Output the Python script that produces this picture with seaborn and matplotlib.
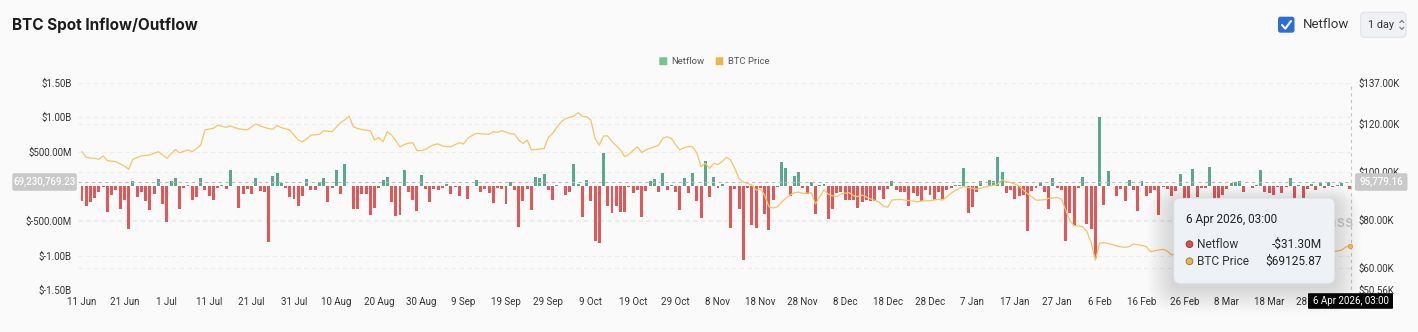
import numpy as np
import pandas as pd
import matplotlib
matplotlib.use("Agg")
import matplotlib.pyplot as plt
from matplotlib.patches import FancyBboxPatch, Circle
from matplotlib.lines import Line2D
from matplotlib.transforms import IdentityTransform
import seaborn as sns

W, H = 1418, 332

# ---- data -------------------------------------------------------------
dates = pd.date_range("2025-06-11", "2026-04-06", freq="D")

# daily spot netflow, millions of USD
netflow_m = [
    -205, -276, -228, -167, -86, -10, -366, -119, -57, -333,
    -190, -609, 76, -157, -86, -214, -343, -105, 109, -248,
    -509, 76, 119, -333, -29, 14, -200, -152, 119, -57,
    -133, -200, -19, 19, -33, 238, 10, -309, -105, -38,
    -114, 124, -71, -81, -809, 152, 190, 48, -19, -152,
    -176, -286, -143, 109, -52, -48, 67, 119, -224, -24,
    238, -105, 319, 10, -333, -324, -110, -114, -409, -314,
    -19, 100, 133, -228, -428, -409, 238, -86, -200, -362,
    171, -38, -224, -33, -48, -24, 38, -110, -10, -143,
    10, -181, 10, 95, -86, -38, -95, -238, -19, -38,
    -248, 71, -57, -581, -205, -33, -347, 133, 119, 186,
    -57, -190, 24, 10, -128, -86, 324, 38, -438, 90,
    -205, -795, -823, 486, -286, -381, -276, -366, -366, -14,
    -95, -48, -438, -71, 86, 109, -81, 195, -57, 24,
    -81, -343, 128, -95, 195, -214, -457, 366, -152, 133,
    -19, 38, 5, -600, -33, -319, -1062, -29, -557, -595,
    -24, -400, -624, -190, -10, 352, 262, -143, 152, 214,
    -29, -114, 67, -395, 19, 33, -466, -319, -100, -81,
    -200, -190, -190, -309, -228, -190, -214, -214, -48, -176,
    -38, 76, -57, -86, -86, -286, -95, -133, -214, -48,
    -119, -200, -86, -181, -48, -24, 24, 24, 262, -381,
    -300, -86, 86, 10, 95, 81, 419, 205, -95, -48,
    -176, -143, -119, -643, -71, -24, 71, -86, -324, 119,
    -24, -48, -786, -381, -571, -24, 133, -548, -609, -1038,
    1000, -262, 224, 10, -143, -38, -214, 95, -48, -357,
    86, -143, -95, -48, -419, -10, -33, -143, -71, 181,
    -181, -181, 252, -152, -24, -19, 286, -181, -176, -119,
    -38, 57, 71, 76, -86, 10, -24, 24, 238, -86,
    -95, -128, -10, -95, -10, 119, -176, 24, -167, -38,
    38, -57, 48, -29, 67, -14, 14, 48, 10, -31.3,
]

# daily BTC close, thousands of USD
btc_price_k = [
    108.3, 105.9, 105.6, 105.5, 105.1, 106.5, 104.5, 104.3, 104.1, 103.2,
    102.3, 100.9, 105.1, 105.8, 106.5, 106.7, 106.9, 107.6, 108.3, 106.9,
    105.5, 107.4, 109.2, 107.8, 108.4, 109.0, 108.3, 109.5, 111.0, 117.3,
    117.7, 118.0, 119.3, 118.8, 118.4, 119.0, 118.3, 117.8, 117.5, 117.3,
    118.6, 119.8, 119.0, 118.4, 117.9, 117.6, 119.2, 118.3, 117.8, 117.3,
    115.2, 113.1, 112.4, 113.6, 115.2, 115.3, 115.5, 117.0, 116.8, 116.6,
    118.5, 120.4, 121.5, 123.1, 118.7, 117.9, 117.5, 117.2, 117.0, 113.1,
    114.2, 112.4, 116.6, 115.2, 112.8, 110.3, 111.2, 111.8, 112.0, 108.7,
    108.7, 109.2, 110.3, 111.2, 111.5, 110.6, 110.4, 110.3, 111.2, 112.0,
    111.5, 113.8, 115.0, 115.9, 115.7, 115.6, 115.5, 116.6, 116.3, 117.0,
    116.4, 115.8, 115.6, 113.1, 111.7, 113.1, 109.0, 109.2, 109.4, 109.6,
    114.2, 115.9, 118.5, 120.6, 122.0, 122.6, 123.1, 124.5, 123.0, 122.8,
    121.5, 113.8, 111.0, 114.8, 114.8, 112.4, 110.8, 109.0, 106.2, 107.2,
    108.8, 110.3, 107.9, 109.0, 109.7, 110.3, 111.0, 113.8, 114.5, 113.8,
    111.2, 109.0, 110.0, 110.4, 110.3, 107.8, 102.0, 103.4, 101.3, 103.4,
    102.9, 104.2, 105.9, 104.8, 101.2, 97.0, 95.6, 95.0, 94.4, 92.3,
    92.6, 90.2, 85.4, 84.8, 85.3, 87.2, 88.9, 90.2, 91.2, 91.4,
    90.9, 91.0, 91.2, 86.5, 89.5, 92.3, 90.6, 89.9, 89.5, 90.6,
    91.0, 91.2, 89.8, 89.6, 90.2, 89.4, 88.6, 88.0, 87.2, 85.6,
    85.1, 88.1, 88.3, 88.4, 88.1, 87.9, 87.7, 87.4, 87.7, 87.8,
    87.8, 88.2, 88.4, 88.1, 89.5, 91.0, 92.1, 93.0, 93.7, 93.4,
    93.0, 92.6, 93.1, 93.6, 94.0, 94.2, 94.8, 96.5, 95.8, 95.4,
    94.8, 94.0, 92.3, 90.8, 89.5, 88.1, 88.1, 88.3, 88.8, 89.0,
    89.2, 88.5, 84.0, 79.5, 77.5, 77.3, 77.0, 75.0, 70.5, 63.0,
    70.1, 70.4, 70.0, 69.6, 69.0, 68.6, 68.4, 68.7, 69.8, 69.5,
    69.2, 68.7, 66.6, 67.0, 67.3, 67.6, 66.8, 65.2, 65.8, 66.9,
    67.8, 68.3, 67.4, 66.5, 65.9, 66.8, 67.9, 68.6, 68.1, 67.2,
    66.4, 67.0, 68.2, 69.5, 70.8, 71.6, 70.9, 70.2, 71.3, 72.1,
    71.0, 70.1, 69.4, 68.7, 68.0, 67.1, 66.7, 66.3, 66.9, 67.4,
    66.8, 66.2, 66.0, 66.4, 66.7, 66.6, 66.9, 67.2, 68.5, 69.12587,
]

tick_labels = [
    "11 Jun", "21 Jun", "1 Jul", "11 Jul", "21 Jul", "31 Jul", "10 Aug",
    "20 Aug", "30 Aug", "9 Sep", "19 Sep", "29 Sep", "9 Oct", "19 Oct",
    "29 Oct", "8 Nov", "18 Nov", "28 Nov", "8 Dec", "18 Dec", "28 Dec",
    "7 Jan", "17 Jan", "27 Jan", "6 Feb", "16 Feb", "26 Feb", "8 Mar",
    "18 Mar", "28 Mar",
]

left_ticks = [1.5e9, 1.0e9, 5e8, -5e8, -1.0e9, -1.5e9]
left_tick_labels = ["$1.50B", "$1.00B", "$500.00M", "$-500.00M", "$-1.00B", "$-1.50B"]
right_ticks = [137000, 120000, 100000, 80000, 60000, 50560]
right_tick_labels = ["$137.00K", "$120.00K", "$100.00K", "$80.00K", "$60.00K", "$50.56K"]

cursor_netflow = 69230769.23
cursor_price = 95779.16
hover_label = "6 Apr 2026, 03:00"
hover_netflow = "-$31.30M"
hover_price = "$69125.87"

# ---- style ------------------------------------------------------------
GREEN = "#5ba98c"
RED = "#e25858"
PRICE = "#f6c567"
GRID = "#ececec"
TXT = "#333333"

sns.set_style("white")
plt.rcParams["font.family"] = ["Roboto", "DejaVu Sans"]

fig = plt.figure(figsize=(W / 100, H / 100), dpi=100, facecolor="#fafafa")


def fx(x):
    return x / W


def fy(y):
    return 1 - y / H


top, bottom = 82.7, 290.2
ax = fig.add_axes([fx(78), fy(bottom), (1352 - 78) / W, (bottom - top) / H])
ax.set_facecolor("none")
ax2 = ax.twinx()

df = pd.DataFrame({
    "day": np.arange(len(dates)),
    "netflow": np.array(netflow_m) * 1e6,
    "price": np.array(btc_price_k) * 1000,
})
df["side"] = np.where(df["netflow"] >= 0, "in", "out")

sns.barplot(data=df, x="day", y="netflow", hue="side",
            palette={"in": GREEN, "out": RED}, native_scale=True,
            width=0.7, dodge=False, errorbar=None, legend=False,
            saturation=1, linewidth=0, ax=ax)

sns.lineplot(data=df, x="day", y="price", ax=ax2, color=PRICE,
             linewidth=0.9, zorder=3)
ax2.plot(df["day"].iloc[-1], df["price"].iloc[-1], "o", ms=3.2,
         color=PRICE, mec="#e4ad45", mew=0.6, zorder=4)

ax.set_xlim(-0.94, 299.53)
ax.set_ylim(-1.5e9, 1.5e9)
ax2.set_ylim(50560, 137000)

# dashed grid for both scales, kept behind the bars
for v in left_ticks:
    ax.axhline(v, color=GRID, lw=0.8, ls=(0, (4, 3)), zorder=0)
for v in right_ticks[1:-1]:
    ax.add_line(Line2D([0, 1], [v, v], transform=ax2.get_yaxis_transform(),
                       color=GRID, lw=0.8, ls=(0, (4, 3)), zorder=0))

ax.set_xticks(np.arange(0, len(dates), 10), tick_labels)
ax.set_yticks(left_ticks, left_tick_labels)
ax2.set_yticks(right_ticks, right_tick_labels)
ax.tick_params(axis="x", length=0, pad=5, labelsize=7, labelcolor=TXT)
ax.tick_params(axis="y", length=0, pad=4.5, labelsize=7, labelcolor=TXT)
ax2.tick_params(axis="y", length=0, pad=5, labelsize=7, labelcolor=TXT)
for a in (ax, ax2):
    a.set_xlabel("")
    a.set_ylabel("")
    for s in a.spines.values():
        s.set_visible(False)

# crosshair
ax.axhline(cursor_netflow, color="#bdbdbd", lw=0.8, ls=(0, (3, 3)), zorder=6)
ax.axvline(df["day"].iloc[-1] + 0.3, ymin=-0.03, ymax=1.0, color="#c4c4c4",
           lw=0.8, ls=(0, (3, 3)), clip_on=False, zorder=6)

# ---- figure-level decorations ----------------------------------------
ID = IdentityTransform()


def rbox(x0, y0, x1, y1, r, **kw):
    p = FancyBboxPatch((x0, H - y1), x1 - x0, y1 - y0,
                       boxstyle=f"round,pad=0,rounding_size={r}",
                       transform=ID, **kw)
    fig.add_artist(p)
    return p


def ptext(x, y, s, **kw):
    kw.setdefault("va", "center")
    return fig.text(fx(x), fy(y), s, **kw)


ptext(12, 25, "BTC Spot Inflow/Outflow", fontsize=11, fontweight="bold",
      color="#1c1c1c", family=["Inter", "DejaVu Sans"])

# netflow toggle
rbox(1278, 16.7, 1294.5, 32.7, 2.5, facecolor="#2b6fd6", edgecolor="none", zorder=3)
fig.add_artist(Line2D([1282, 1285.3, 1291], [H - 25, H - 28.6, H - 21],
                      transform=ID, color="white", lw=1.5,
                      solid_capstyle="round", solid_joinstyle="round", zorder=4))
ptext(1302.5, 24.8, "Netflow", fontsize=9.5, color=TXT)

# interval selector
rbox(1360.7, 12.3, 1406, 37.3, 4, facecolor="#eff1f4", edgecolor="#dfe2e7",
     lw=0.8, zorder=3)
ptext(1367.5, 24.6, "1 day", fontsize=7.8, color=TXT, zorder=4)
fig.add_artist(Line2D([1399.8, 1401.8, 1403.8], [H - 22.6, H - 20.4, H - 22.6],
                      transform=ID, color="#777", lw=0.8, zorder=4))
fig.add_artist(Line2D([1399.8, 1401.8, 1403.8], [H - 27.2, H - 29.4, H - 27.2],
                      transform=ID, color="#777", lw=0.8, zorder=4))

# legend
rbox(659.3, 57.3, 667.3, 65.2, 0.5, facecolor="#79c589", edgecolor="none", zorder=3)
ptext(671.5, 61.2, "Netflow", fontsize=6.8, color="#555555")
rbox(715.7, 57.3, 723.3, 65.2, 0.5, facecolor="#eab54e", edgecolor="none", zorder=3)
ptext(727.6, 61.2, "BTC Price", fontsize=6.8, color="#555555")

# crosshair value labels
rbox(12.3, 173.2, 76.8, 190.8, 2, facecolor="#c9c9c9", edgecolor="none", zorder=3)
ptext(44.5, 182.2, f"{cursor_netflow:,.2f}", fontsize=7, color="white",
      ha="center", fontweight="medium", zorder=4)
rbox(1355, 173.2, 1407.5, 190.8, 2, facecolor="#c9c9c9", edgecolor="none", zorder=3)
ptext(1381.2, 182.2, f"{cursor_price:,.2f}", fontsize=7, color="white",
      ha="center", fontweight="medium", zorder=4)
rbox(1308, 293.2, 1393, 308.8, 1, facecolor="#050505", edgecolor="none", zorder=3)
ptext(1350.5, 301.2, hover_label, fontsize=7, color="white", ha="center", zorder=4)

# faint watermark, mostly hidden under the tooltip
ptext(1353.5, 222, "coinglass", fontsize=11.5, color="#cdcdcd", ha="right",
      family=["Inter", "DejaVu Sans"], zorder=0.5)

# tooltip with soft shadow
for k in range(12):
    g = 2 + k * 2.2
    rbox(1174 - g, 198.3 - g * 0.6 + 3, 1334.3 + g, 283.3 + g + 3, 6 + g,
         facecolor="black", edgecolor="none", alpha=0.011, zorder=1.5)
rbox(1174, 198.3, 1334.3, 283.3, 6, facecolor="#eef1f5", edgecolor="#e3e6ea",
     lw=0.6, zorder=2)
ptext(1186, 219, hover_label, fontsize=8.5, color="#222222", zorder=4)
fig.add_artist(Circle((1189.5, H - 244.2), 3.4, transform=ID,
                      facecolor="#e04c4c", edgecolor="#8a3a3a", lw=0.6, zorder=4))
ptext(1197.3, 244.2, "Netflow", fontsize=8.6, color="#333333", zorder=4)
ptext(1321.8, 244.2, hover_netflow, fontsize=8.6, color="#222222", ha="right", zorder=4)
fig.add_artist(Circle((1189.5, H - 261.3), 3.4, transform=ID,
                      facecolor="#e7b748", edgecolor="#8a7340", lw=0.6, zorder=4))
ptext(1197.3, 261.3, "BTC Price", fontsize=8.6, color="#333333", zorder=4)
ptext(1321.8, 261.3, hover_price, fontsize=8.6, color="#222222", ha="right", zorder=4)

fig.savefig("out.png", dpi=100, facecolor=fig.get_facecolor())
